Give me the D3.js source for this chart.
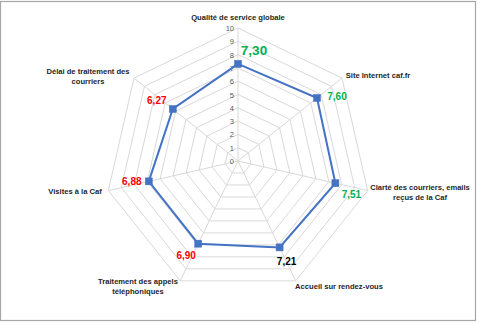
<!DOCTYPE html>
<html><head><meta charset="utf-8">
<script src="https://cdn.jsdelivr.net/npm/d3@7"></script>
<style>body{margin:0;background:#fff;}svg{display:block;}</style>
</head><body>
<svg id="c" width="478" height="323"></svg>
<script>
const categories = ["Qualité de service globale","Site Internet caf.fr","Clarté des courriers, emails reçus de la Caf","Accueil sur rendez-vous","Traitement des appels téléphoniques","Visites à la Caf","Délai de traitement des courriers"];
const values = [7.30, 7.60, 7.51, 7.21, 6.90, 6.88, 6.27];
const valueLabels = ["7,30","7,60","7,51","7,21","6,90","6,88","6,27"];
const labelColors = ["#00B050","#00B050","#00B050","#000000","#FF0000","#FF0000","#FF0000"];
const tickValues = [0,1,2,3,4,5,6,7,8,9,10];

const svg = d3.select("#c");
const font = "'Liberation Sans', Arial, sans-serif";
svg.append("rect").attr("x",0.5).attr("y",1.5).attr("width",475).attr("height",319)
  .attr("fill","#fff").attr("stroke","#A6A6A6").attr("stroke-width",1.2);

const cx = 238, cy = 161;
const r = d3.scaleLinear().domain([0,10]).range([0,133]);
const n = categories.length;
const ang = d3.scaleLinear().domain([0,n]).range([0,2*Math.PI]);
const pt = (i,v)=>[cx + r(v)*Math.sin(ang(i)), cy - r(v)*Math.cos(ang(i))];

const g = svg.append("g");
// grid polygons
tickValues.slice(1).forEach(t=>{
  const pts = d3.range(n).map(i=>pt(i,t));
  g.append("path").attr("d", d3.line()(pts)+"Z").attr("fill","none")
   .attr("stroke","#D9D9D9").attr("stroke-width",1);
});
// spokes
d3.range(n).forEach(i=>{
  const [x,y]=pt(i,10);
  g.append("line").attr("x1",cx).attr("y1",cy).attr("x2",x).attr("y2",y)
   .attr("stroke","#D9D9D9").attr("stroke-width",1);
});
// tick labels
tickValues.forEach(t=>{
  g.append("text").attr("x",cx-4).attr("y",cy-r(t)+3).attr("text-anchor","end")
   .attr("font-family",font).attr("font-size",7.5).attr("fill","#595959").text(t);
});
// series line
const linePts = values.map((v,i)=>pt(i,v));
g.append("path").attr("d", d3.line()(linePts)+"Z").attr("fill","none")
  .attr("stroke","#4472C4").attr("stroke-width",2);
linePts.forEach(([x,y])=>{
  g.append("rect").attr("x",x-3.5).attr("y",y-3.5).attr("width",7).attr("height",7)
   .attr("fill","#4472C4").attr("stroke","#4472C4").attr("stroke-width",0.5);
});
// data labels
const dlOff = [[16,-9],[20,2],[16,15],[7,18],[-12,15],[-17,4],[-16,-5]];
values.forEach((v,i)=>{
  const [x,y]=linePts[i];
  g.append("text").attr("x",x+dlOff[i][0]).attr("y",y+dlOff[i][1])
   .attr("text-anchor","middle").attr("font-family",font).attr("font-weight","bold")
   .attr("font-size", i===0?13.5:10).attr("fill",labelColors[i]).text(valueLabels[i]);
});
// category labels
const catLines = [["Qualité de service globale"],["Site Internet caf.fr"],["Clarté des courriers, emails","reçus de la Caf"],["Accueil sur rendez-vous"],["Traitement des appels","téléphoniques"],["Visites à la Caf"],["Délai de traitement des","courriers"]];
const catPos = [[238,20,"middle"],[378,78,"middle"],[420,190,"middle"],[339,289,"middle"],[138,284,"middle"],[75,194,"middle"],[88,74,"middle"]];
catLines.forEach((lines,i)=>{
  const t = g.append("text").attr("x",catPos[i][0]).attr("y",catPos[i][1])
    .attr("text-anchor",catPos[i][2]).attr("font-family",font).attr("font-weight","bold")
    .attr("font-size",7.6).attr("fill","#262626");
  lines.forEach((l,j)=>t.append("tspan").attr("x",catPos[i][0]).attr("dy",j?10:0).text(l));
});
</script>
</body></html>
